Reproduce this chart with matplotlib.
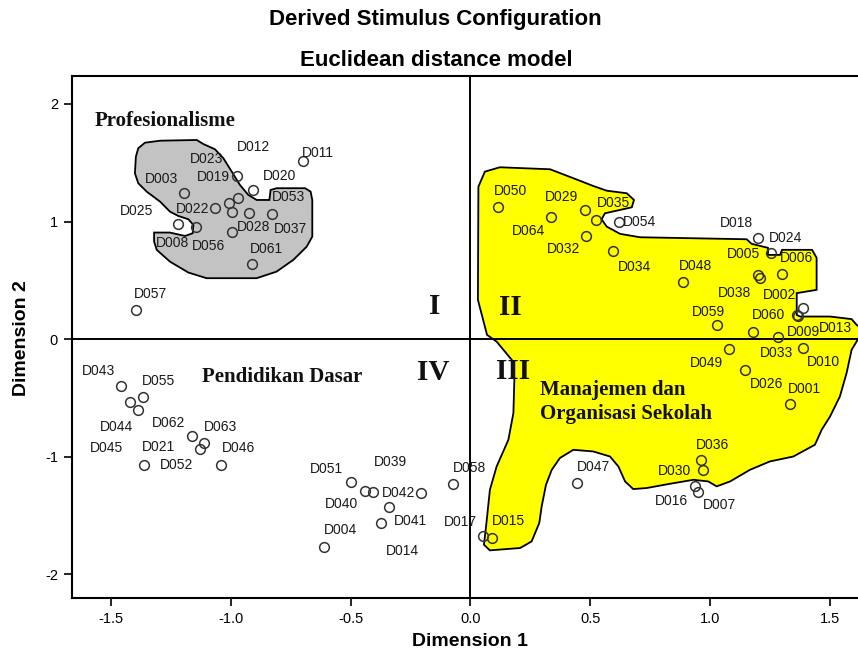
import matplotlib
matplotlib.use('Agg')
import matplotlib.pyplot as plt

plt.rcParams['font.family'] = ['Liberation Sans', 'DejaVu Sans']
plt.rcParams['axes.unicode_minus'] = False

# Stimulus coordinates (Dimension 1, Dimension 2)
names = ['D011', 'D012', 'D020', 'D003', 'D019', 'D023', 'D022', 'D056', 'D037', 'D053',
         'D025', 'D008', 'D028', 'D061', 'D057',
         'D043', 'D055', 'D044', 'D045', 'D062', 'D063', 'D021', 'D052', 'D046',
         'D051', 'D040', 'D039', 'D042', 'D041', 'D014', 'D004', 'D058', 'D017',
         'D050', 'D064', 'D029', 'D035', 'D054', 'D032', 'D034', 'D048', 'D018', 'D024',
         'D005', 'D038', 'D006', 'D002', 'D060', 'D013', 'D059', 'D033', 'D009', 'D010',
         'D049', 'D026', 'D001', 'D036', 'D030', 'D016', 'D007', 'D047', 'D015']
dim1 = [-0.698, -0.975, -0.909, -1.194, -0.969, -1.006, -1.066, -0.996, -0.924, -0.829,
        -1.219, -1.145, -0.996, -0.913, -1.395,
        -1.458, -1.368, -1.420, -1.388, -1.160, -1.110, -1.128, -1.361, -1.041,
        -0.500, -0.440, -0.406, -0.207, -0.339, -0.375, -0.611, -0.072, 0.053,
        0.116, 0.335, 0.478, 0.522, 0.621, 0.482, 0.593, 0.885, 1.201, 1.252,
        1.201, 1.208, 1.298, 1.389, 1.361, 1.367, 1.027, 1.177, 1.282, 1.386,
        1.080, 1.145, 1.333, 0.960, 0.969, 0.937, 0.948, 0.446, 0.088]
dim2 = [1.518, 1.388, 1.270, 1.241, 1.199, 1.156, 1.114, 1.085, 1.076, 1.063,
        0.980, 0.958, 0.915, 0.638, 0.250,
        -0.396, -0.495, -0.535, -0.600, -0.821, -0.883, -0.934, -1.067, -1.073,
        -1.217, -1.288, -1.299, -1.308, -1.430, -1.562, -1.767, -1.231, -1.676,
        1.128, 1.037, 1.099, 1.014, 1.000, 0.878, 0.754, 0.490, 0.864, 0.731,
        0.547, 0.524, 0.556, 0.264, 0.207, 0.195, 0.117, 0.060, 0.018, -0.076,
        -0.084, -0.260, -0.549, -1.025, -1.115, -1.251, -1.299, -1.223, -1.690]

# where each point label sits (data units)
lab1 = [-0.635, -0.906, -0.795, -1.288, -1.073, -1.101, -1.159, -1.094, -0.753, -0.760,
        -1.393, -1.242, -0.906, -0.850, -1.337,
        -1.553, -1.302, -1.476, -1.518, -1.261, -1.042, -1.302, -1.226, -0.969,
        -0.600, -0.537, -0.336, -0.301, -0.252, -0.283, -0.544, -0.005, -0.041,
        0.165, 0.241, 0.380, 0.596, 0.707, 0.387, 0.686, 0.937, 1.108, 1.316,
        1.141, 1.103, 1.361, 1.291, 1.242, 1.521, 0.992, 1.277, 1.389, 1.472,
        0.985, 1.236, 1.395, 1.009, 0.853, 0.839, 1.038, 0.512, 0.158]
lab2 = [1.581, 1.637, 1.388, 1.360, 1.377, 1.530, 1.105, 0.794, 0.935, 1.207,
        1.093, 0.822, 0.958, 0.766, 0.386,
        -0.274, -0.359, -0.742, -0.925, -0.713, -0.747, -0.917, -1.067, -0.925,
        -1.104, -1.401, -1.047, -1.308, -1.543, -1.804, -1.625, -1.095, -1.557,
        1.261, 0.921, 1.212, 1.161, 0.995, 0.765, 0.613, 0.624, 0.986, 0.859,
        0.726, 0.392, 0.689, 0.377, 0.207, 0.094, 0.235, -0.113, 0.065, -0.195,
        -0.203, -0.379, -0.424, -0.897, -1.124, -1.379, -1.413, -1.082, -1.549]

# hand-drawn cluster outlines
gray_x = [-1.386, -1.358, -1.295, -1.142, -1.115, -1.066, -1.031, -0.996, -0.962, -0.927,
          -0.892, -0.839, -0.834, -0.809, -0.690, -0.667, -0.660, -0.660, -0.683, -0.739,
          -0.809, -0.892, -1.101, -1.177, -1.254, -1.309, -1.320, -1.320, -1.254, -1.191,
          -1.159, -1.156, -1.177, -1.219, -1.254, -1.295, -1.351, -1.386, -1.400, -1.396]
gray_y = [1.624, 1.671, 1.688, 1.694, 1.660, 1.615, 1.539, 1.425, 1.312, 1.227,
          1.184, 1.184, 1.269, 1.284, 1.284, 1.255, 1.184, 0.873, 0.788, 0.675,
          0.575, 0.519, 0.519, 0.567, 0.660, 0.760, 0.830, 0.907, 0.907, 0.878,
          0.901, 0.972, 1.020, 1.048, 1.085, 1.170, 1.255, 1.326, 1.411, 1.552]

yellow_x = [0.033, 0.060, 0.123, 0.332, 0.429, 0.512, 0.568, 0.652, 0.682, 0.673,
            0.610, 0.561, 0.547, 0.568, 0.624, 0.707, 1.152, 1.173, 1.241, 1.241,
            1.291, 1.300, 1.425, 1.444, 1.444, 1.361, 1.361, 1.375, 1.500, 1.590,
            1.611, 1.640, 1.590, 1.569, 1.541, 1.500, 1.465, 1.437, 1.347, 1.249,
            1.166, 1.083, 1.027, 0.992, 0.930, 0.832, 0.735, 0.679, 0.645, 0.617,
            0.582, 0.512, 0.429, 0.373, 0.339, 0.315, 0.297, 0.287, 0.255, 0.207,
            0.081, 0.056, 0.065, 0.081, 0.109, 0.158, 0.179, 0.183, 0.172, 0.109,
            0.069, 0.031]
yellow_y = [1.297, 1.425, 1.462, 1.445, 1.369, 1.303, 1.263, 1.241, 1.184, 1.122,
            1.093, 1.071, 1.020, 0.958, 0.896, 0.867, 0.850, 0.811, 0.777, 0.717,
            0.717, 0.760, 0.760, 0.692, 0.420, 0.392, 0.207, 0.193, 0.193, 0.171,
            0.122, 0.080, -0.090, -0.288, -0.487, -0.657, -0.770, -0.897, -0.997, -1.039,
            -1.110, -1.209, -1.251, -1.209, -1.195, -1.229, -1.265, -1.274, -1.209, -1.082,
            -0.997, -0.954, -0.940, -1.010, -1.110, -1.237, -1.421, -1.562, -1.719, -1.775,
            -1.795, -1.747, -1.591, -1.280, -1.082, -0.855, -0.628, -0.345, -0.175, -0.020,
            0.037, 0.335]

xticks = [-1.5, -1.0, -0.5, 0.0, 0.5, 1.0, 1.5]
yticks = [-2, -1, 0, 1, 2]

fig = plt.figure(figsize=(8.58, 6.6), dpi=100)
ax = fig.add_axes([72 / 858, 62 / 660, 788 / 858, 522 / 660])

ax.fill(gray_x, gray_y, facecolor='#c3c3c3', edgecolor='black', lw=1.3, zorder=1)
ax.fill(yellow_x, yellow_y, facecolor='#ffff00', edgecolor='black', lw=1.3, zorder=1)

ax.axhline(0, color='black', lw=1.4, zorder=2)
ax.axvline(0, color='black', lw=1.4, zorder=2)

ax.plot(dim1, dim2, 'o', ms=7, mfc='none', mec='#333333', mew=1.1, zorder=3)
for n, lx, ly in zip(names, lab1, lab2):
    ax.text(lx, ly, n, fontsize=10, color='#1a1a1a', ha='center', va='center', zorder=4)

# group names and quadrant numbers
serif = dict(family='Liberation Serif', fontweight='bold', color='#111111', zorder=4)
ax.text(-1.567, 1.858, 'Profesionalisme', fontsize=15, ha='left', va='center', **serif)
ax.text(-1.12, -0.32, 'Pendidikan Dasar', fontsize=15, ha='left', va='center', **serif)
ax.text(0.29, -0.535, 'Manajemen dan\nOrganisasi Sekolah', fontsize=15, ha='left',
        va='center', linespacing=1.3, **serif)
for txt, qx, qy in [('I', -0.148, 0.28), ('II', 0.168, 0.27), ('IV', -0.156, -0.285), ('III', 0.179, -0.274)]:
    ax.text(qx, qy, txt, fontsize=21, ha='center', va='center', **serif)

ax.set_xlim(-1.6625, 1.625)
ax.set_ylim(-2.20, 2.238)
ax.set_xticks(xticks)
ax.set_xticklabels([f'{t:.1f}' for t in xticks])
ax.set_yticks(yticks)
ax.tick_params(direction='out', length=6, width=1.2, labelsize=10.5, pad=4)
for s in ax.spines.values():
    s.set_linewidth(1.5)

fig.text(435 / 858, 1 - 19 / 660, 'Derived Stimulus Configuration', fontsize=16,
         fontweight='bold', ha='center', va='center')
fig.text(436 / 858, 1 - 61 / 660, 'Euclidean distance model', fontsize=16,
         fontweight='bold', ha='center', va='center')
fig.text(470 / 858, 1 - 641 / 660, 'Dimension 1', fontsize=14, fontweight='bold',
         ha='center', va='center')
fig.text(22 / 858, 1 - 338 / 660, 'Dimension 2', fontsize=14, fontweight='bold',
         ha='center', va='center', rotation=90)

fig.savefig('out.png', dpi=100)
